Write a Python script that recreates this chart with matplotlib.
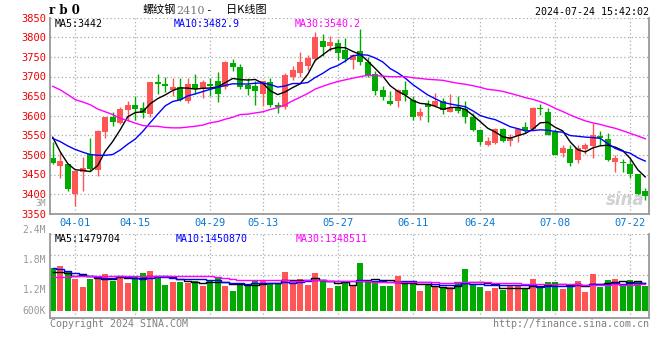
import numpy as np
import pandas as pd
import matplotlib
matplotlib.use("Agg")
import matplotlib.pyplot as plt

plt.rcParams['font.family'] = ['DejaVu Sans Mono', 'Noto Sans CJK SC']

# daily candles for rb0, 2024-03-27 .. 2024-07-24
opens = [3493, 3472, 3476, 3400, 3457, 3503, 3461, 3558, 3597, 3582,
         3614, 3628, 3620, 3605, 3687, 3682, 3666, 3672, 3637, 3682,
         3669, 3682, 3689, 3673, 3734, 3724, 3679, 3677, 3656, 3687,
         3628, 3622, 3699, 3710, 3727, 3745, 3791, 3779, 3786, 3768,
         3743, 3765, 3736, 3707, 3666, 3638, 3637, 3666, 3641, 3599,
         3630, 3626, 3637, 3610, 3622, 3617, 3596, 3563, 3525, 3530,
         3565, 3535, 3548, 3572, 3565, 3619, 3610, 3559, 3504, 3514,
         3486, 3516, 3523, 3548, 3540, 3482, 3482, 3476, 3451, 3408]
highs = [3533, 3507, 3478, 3460, 3495, 3542, 3563, 3597, 3610, 3622,
         3638, 3651, 3634, 3686, 3706, 3699, 3696, 3696, 3696, 3707,
         3692, 3696, 3711, 3740, 3744, 3732, 3696, 3688, 3689, 3696,
         3634, 3710, 3727, 3762, 3754, 3814, 3808, 3803, 3796, 3799,
         3758, 3821, 3751, 3715, 3677, 3664, 3667, 3689, 3651, 3620,
         3641, 3658, 3644, 3655, 3651, 3638, 3607, 3567, 3546, 3569,
         3569, 3554, 3569, 3584, 3621, 3630, 3620, 3567, 3524, 3524,
         3524, 3531, 3582, 3561, 3556, 3499, 3490, 3489, 3452, 3415]
lows = [3476, 3442, 3408, 3370, 3408, 3460, 3446, 3542, 3573, 3578,
        3586, 3590, 3594, 3596, 3655, 3660, 3649, 3637, 3633, 3656,
        3645, 3651, 3634, 3669, 3715, 3669, 3654, 3627, 3624, 3623,
        3607, 3616, 3692, 3698, 3717, 3740, 3753, 3765, 3743, 3738,
        3720, 3730, 3700, 3654, 3641, 3628, 3622, 3638, 3590, 3588,
        3584, 3622, 3605, 3609, 3606, 3582, 3562, 3525, 3523, 3529,
        3534, 3523, 3533, 3555, 3563, 3603, 3550, 3500, 3495, 3472,
        3479, 3503, 3491, 3525, 3485, 3457, 3457, 3442, 3398, 3386]
closes = [3479, 3485, 3414, 3459, 3466, 3463, 3562, 3596, 3584, 3616,
          3628, 3616, 3607, 3685, 3682, 3675, 3672, 3641, 3682, 3669,
          3686, 3675, 3655, 3736, 3723, 3672, 3669, 3662, 3688, 3628,
          3622, 3704, 3717, 3736, 3748, 3801, 3774, 3789, 3759, 3744,
          3754, 3736, 3704, 3664, 3647, 3631, 3666, 3654, 3596, 3610,
          3622, 3638, 3614, 3620, 3613, 3596, 3563, 3533, 3535, 3565,
          3535, 3545, 3565, 3563, 3620, 3616, 3552, 3501, 3517, 3479,
          3517, 3524, 3552, 3544, 3486, 3493, 3480, 3452, 3400, 3394]
volumes = [1920000, 2000000, 1820000, 1590000, 1350000, 1590000, 1690000, 1750000, 1540000, 1620000,
           1470000, 1660000, 1780000, 1840000, 1690000, 1400000, 1500000, 1510000, 1470000, 1540000,
           1370000, 1540000, 1630000, 1370000, 1230000, 1460000, 1380000, 1540000, 1540000, 1460000,
           1430000, 1820000, 1540000, 1600000, 1410000, 1780000, 1520000, 1320000, 1370000, 1460000,
           1360000, 2090000, 1490000, 1490000, 1380000, 1370000, 1690000, 1460000, 1430000, 1220000,
           1400000, 1330000, 1310000, 1350000, 1470000, 1910000, 1430000, 1350000, 1220000, 1320000,
           1260000, 1360000, 1360000, 1280000, 1600000, 1330000, 1510000, 1510000, 1280000, 1370000,
           1530000, 1180000, 1750000, 1350000, 1560000, 1600000, 1360000, 1560000, 1510000, 1360000]

ma5_head = [3545, 3508, 3478, 3462]
ma10_head = [3542, 3534, 3523, 3514, 3507, 3501, 3499, 3499, 3501]
ma30_head = [3675, 3666, 3654, 3641, 3635, 3628, 3617, 3610, 3603, 3593,
             3588, 3581, 3575, 3573, 3573, 3570, 3569, 3569, 3571, 3573,
             3576, 3582, 3585, 3591, 3596, 3603, 3604, 3607, 3610]
vma5_head = [1800000, 1820000, 1770000, 1690000]
vma10_head = [1930000, 1910000, 1830000, 1770000, 1730000, 1670000, 1640000, 1620000, 1610000]
vma30_head = [1640000, 1650000, 1660000, 1670000, 1670000, 1680000, 1680000, 1680000, 1680000, 1680000,
              1680000, 1680000, 1680000, 1680000, 1680000, 1680000, 1680000, 1680000, 1680000, 1680000,
              1680000, 1670000, 1650000, 1610000, 1580000, 1570000, 1570000, 1570000, 1570000]

tick_idx = [3, 11, 21, 28, 38, 48, 57, 67, 77]
tick_labels = ['04-01', '04-15', '04-29', '05-13', '05-27', '06-11', '06-24', '07-08', '07-22']
vol_labels = ['3M', '2.4M', '1.8M', '1.2M', '600K']


def with_head(values, n, head):
    out = pd.Series(values, dtype=float).rolling(n).mean().to_numpy()
    out[:len(head)] = head
    return out


RED = '#ff5555'
GREEN = '#00aa00'
GRID = '#aaaaaa'
BORDER = '#999999'

o = np.array(opens, float)
c = np.array(closes, float)
x = np.arange(len(closes))
colors = [RED if cc >= oo else GREEN for oo, cc in zip(o, c)]

W, H = 660, 360
fig = plt.figure(figsize=(6.6, 3.6), dpi=100)


def fx(px):
    return px / W


def fy(py):
    return 1 - py / H


# price panel
ax = fig.add_axes([fx(50), fy(213.7), fx(599), 196 / H])
ax.set_axisbelow(True)
ax.vlines(x, lows, highs, colors=colors, linewidth=1)
ax.bar(x, np.maximum(np.abs(c - o), 2.5), bottom=np.minimum(o, c), width=0.8, color=colors, linewidth=0)
ax.plot(x, with_head(closes, 5, ma5_head), color='black', lw=1)
ax.plot(x, with_head(closes, 10, ma10_head), color='#0000ff', lw=1)
ax.plot(x, with_head(closes, 30, ma30_head), color='#ff00ff', lw=1)

ax.set_xlim(-0.36, 79.5)
ax.set_ylim(3350, 3850)
ax.set_yticks(range(3350, 3851, 50))
ax.set_xticks(tick_idx)
ax.set_xticklabels(tick_labels)
ax.tick_params(axis='y', length=0, pad=3, labelsize=7.5, labelcolor='#ee0000')
ax.tick_params(axis='x', length=0, pad=3, labelsize=7.5, labelcolor='#0b78d1')
ax.grid(True, linestyle=(0, (1, 2)), color=GRID, linewidth=0.9)
ax.spines['top'].set_visible(False)
for s in ['left', 'right', 'bottom']:
    ax.spines[s].set_color(BORDER)
    ax.spines[s].set_linewidth(1.3)

fig.text(fx(55), fy(24), 'MA5:3442', color='black', fontsize=7.2, va='center')
fig.text(fx(174), fy(24), 'MA10:3482.9', color='#0000ff', fontsize=7.2, va='center')
fig.text(fx(295), fy(24), 'MA30:3540.2', color='#ff00ff', fontsize=7.2, va='center')
fig.text(fx(606), fy(200), 'sina', color='#cccccc', fontsize=12, fontweight='bold',
         style='italic', va='center', family='DejaVu Sans', alpha=0.9)

# volume panel
base = 600000
vol_lo, vol_hi = 381000, 2988000
axv = fig.add_axes([fx(50), fy(317.7), fx(599), 83.4 / H])
axv.set_axisbelow(True)
axv.bar(x, np.array(volumes) - base, bottom=base, width=0.8, color=colors, linewidth=0)
axv.plot(x, with_head(volumes, 5, vma5_head), color='black', lw=1, drawstyle='steps-mid')
axv.plot(x, with_head(volumes, 10, vma10_head), color='#0000ff', lw=1, drawstyle='steps-mid')
axv.plot(x, with_head(volumes, 30, vma30_head), color='#ff00ff', lw=1, drawstyle='steps-mid')
axv.set_xlim(-0.36, 79.5)
axv.set_ylim(vol_lo, vol_hi)
axv.set_xticks(tick_idx)
axv.set_yticks([vol_lo + f * (vol_hi - vol_lo) for f in (0.272, 0.508, 0.748, 0.999)])
axv.tick_params(length=0, labelbottom=False, labelleft=False)
axv.grid(True, linestyle=(0, (1, 2)), color=GRID, linewidth=0.9)
axv.spines['top'].set_visible(False)
for s in ['left', 'right', 'bottom']:
    axv.spines[s].set_color(BORDER)
    axv.spines[s].set_linewidth(1.3)

fig.text(fx(55), fy(239), 'MA5:1479704', color='black', fontsize=7.2, va='center')
fig.text(fx(176), fy(239), 'MA10:1450870', color='#0000ff', fontsize=7.2, va='center')
fig.text(fx(296), fy(239), 'MA30:1348511', color='#ff00ff', fontsize=7.2, va='center')

# sina puts the volume labels a little off their grid lines
for lab, py, fs in zip(vol_labels, [204, 230, 260, 290, 311], [6.3, 7, 7, 7, 7]):
    fig.text(fx(46), fy(py), lab, color='#999999', fontsize=fs, ha='right', va='center')

# header
fig.text(fx(49), fy(11), 'r b 0', fontsize=8.5, fontweight='bold', family='DejaVu Serif', va='center')
fig.text(fx(142), fy(10), '螺纹钢', fontsize=8, family='Noto Sans CJK SC', va='center')
fig.text(fx(176), fy(10.5), '2410', fontsize=8, color='#777777', family='DejaVu Serif', va='center')
fig.text(fx(205), fy(10), '-', fontsize=8, va='center')
fig.text(fx(226), fy(10), '日K线图', fontsize=8, family='Noto Sans CJK SC', va='center')
fig.text(fx(649), fy(12), '2024-07-24 15:42:02', fontsize=7.2, ha='right', va='center')

# footer
fig.text(fx(50), fy(324), 'Copyright 2024 SINA.COM', color='#808080', fontsize=7.2, va='center')
fig.text(fx(649), fy(324), 'http://finance.sina.com.cn', color='#808080', fontsize=7.2, ha='right', va='center')

fig.savefig('out.png', dpi=100, facecolor='white')
